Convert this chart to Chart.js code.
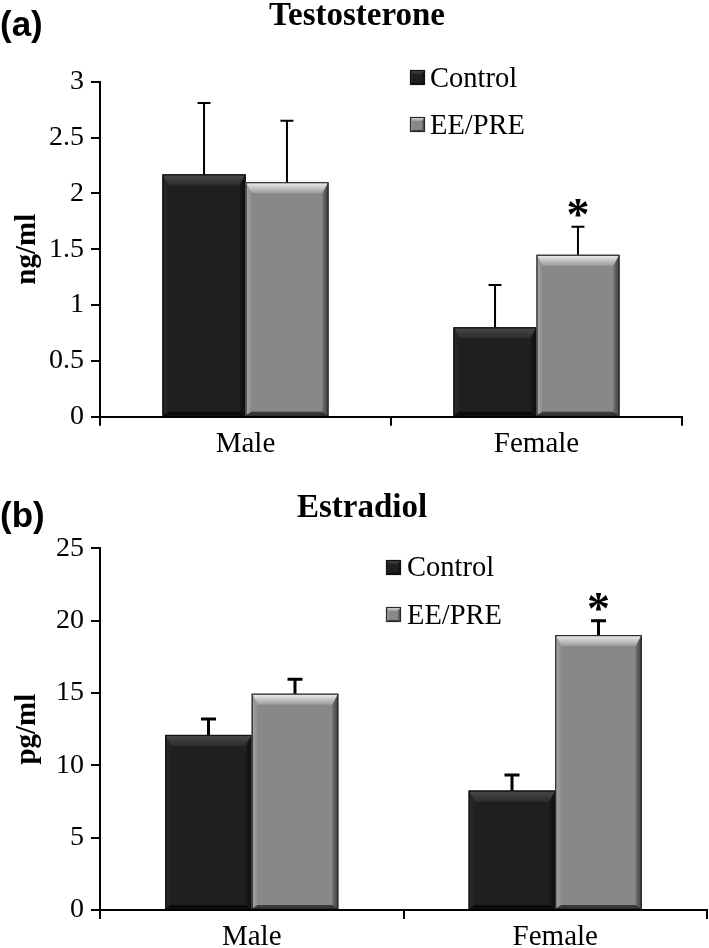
<!DOCTYPE html>
<html><head><meta charset="utf-8">
<script src="https://cdn.jsdelivr.net/npm/chart.js@4.4.1/dist/chart.umd.min.js"></script>
<style>
html,body{margin:0;padding:0;background:#fff;}
#wrap{width:709px;height:948px;position:relative;overflow:hidden;}
canvas{display:block;}
</style></head><body>
<div id="wrap">
<canvas id="ca" width="709" height="474"></canvas>
<canvas id="cb" width="709" height="474"></canvas>
</div>
<script>
// ---- data ----
const categories = ['Male', 'Female'];
const seriesNames = ['Control', 'EE/PRE'];
const seriesColors = ['#1f1f1f', '#888888'];

const testoControl = [2.17, 0.80];
const testoEEPRE = [2.10, 1.45];
const testoControlErr = [0.64, 0.38];
const testoEEPREErr = [0.55, 0.25];
const testoSignificant = [false, true];   // EE/PRE vs Control

const estraControl = [12.1, 8.25];
const estraEEPRE = [14.95, 19.0];
const estraControlErr = [1.1, 1.08];
const estraEEPREErr = [1.0, 1.0];
const estraSignificant = [false, true];

const SERIF = '"Liberation Serif", "Times New Roman", serif';
const SANS = '"Liberation Sans", Arial, sans-serif';

function bevelRect(ctx, l, t, r, b, main, k) {
  const w = r - l, h = b - t;
  if (w <= 0 || h <= 0) return;
  const bt = Math.min(k.top, h / 2), bs = Math.min(k.side, w / 2), bb = Math.min(k.bottom, h / 2);
  ctx.save();
  ctx.fillStyle = main;
  ctx.fillRect(l, t, w, h);
  let g = ctx.createLinearGradient(0, t, 0, t + bt);
  g.addColorStop(0, k.topA); g.addColorStop(1, k.topB);
  ctx.fillStyle = g;
  ctx.beginPath(); ctx.moveTo(l, t); ctx.lineTo(r, t); ctx.lineTo(r - bs, t + bt); ctx.lineTo(l + bs, t + bt); ctx.closePath(); ctx.fill();
  g = ctx.createLinearGradient(l, 0, l + bs, 0);
  g.addColorStop(0, k.leftA); g.addColorStop(1, k.leftB);
  ctx.fillStyle = g;
  ctx.beginPath(); ctx.moveTo(l, t); ctx.lineTo(l + bs, t + bt); ctx.lineTo(l + bs, b - bb); ctx.lineTo(l, b); ctx.closePath(); ctx.fill();
  g = ctx.createLinearGradient(r - bs, 0, r, 0);
  g.addColorStop(0, k.rightA); g.addColorStop(1, k.rightB);
  ctx.fillStyle = g;
  ctx.beginPath(); ctx.moveTo(r, t); ctx.lineTo(r, b); ctx.lineTo(r - bs, b - bb); ctx.lineTo(r - bs, t + bt); ctx.closePath(); ctx.fill();
  ctx.fillStyle = k.bottomC;
  ctx.beginPath(); ctx.moveTo(l, b); ctx.lineTo(l + bs, b - bb); ctx.lineTo(r - bs, b - bb); ctx.lineTo(r, b); ctx.closePath(); ctx.fill();
  ctx.strokeStyle = k.edge; ctx.lineWidth = 1.2;
  ctx.strokeRect(l + 0.5, t + 0.5, w - 1, h - 1);
  ctx.restore();
}

const bevelStyles = [
  {top: 11, side: 6, bottom: 4, topA: '#4a4a4a', topB: '#2c2c2c', leftA: '#2a2a2a', leftB: '#222', rightA: '#1a1a1a', rightB: '#0d0d0d', bottomC: '#0a0a0a', edge: '#111'},
  {top: 11, side: 6, bottom: 4, topA: '#f2f2f2', topB: '#9a9a9a', leftA: '#a8a8a8', leftB: '#8c8c8c', rightA: '#707070', rightB: '#3e3e3e', bottomC: '#3a3a3a', edge: '#2a2a2a'}
];

function makeChart(id, c) {
  const errs = [c.controlErr, c.eeErr];
  const decor = {
    id: 'decor',
    afterDatasetsDraw(chart) {
      const ctx = chart.ctx;
      const ys = chart.scales.y;
      chart.data.datasets.forEach((ds, di) => {
        const meta = chart.getDatasetMeta(di);
        meta.data.forEach((el) => {
          const p = el.getProps(['x', 'y', 'base', 'width'], true);
          bevelRect(ctx, p.x - p.width / 2, p.y, p.x + p.width / 2, p.base, ds.backgroundColor, bevelStyles[di]);
        });
      });
      ctx.save();
      ctx.strokeStyle = '#000';
      ctx.lineWidth = c.errLW;
      chart.data.datasets.forEach((ds, di) => {
        const meta = chart.getDatasetMeta(di);
        meta.data.forEach((el, i) => {
          const v = ds.data[i];
          const yTop = ys.getPixelForValue(v + errs[di][i]);
          const x = el.x;
          ctx.beginPath();
          ctx.moveTo(x, el.y); ctx.lineTo(x, yTop);
          ctx.moveTo(x - c.cap / 2, yTop); ctx.lineTo(x + c.cap / 2, yTop);
          ctx.stroke();
          if (di === 1 && c.sig[i]) {
            ctx.fillStyle = '#000';
            ctx.font = 'bold 46px ' + SERIF;
            ctx.textAlign = 'center';
            ctx.textBaseline = 'alphabetic';
            ctx.fillText('*', x, yTop - c.starGap);
          }
        });
      });
      ctx.restore();
    },
    afterDraw(chart) {
      const ctx = chart.ctx;
      ctx.save();
      ctx.fillStyle = '#000';
      ctx.textBaseline = 'alphabetic';
      ctx.font = 'bold 33px ' + SERIF;
      ctx.textAlign = 'center';
      ctx.fillText(c.title, c.titleX, c.titleY);
      ctx.font = 'bold 35px ' + SANS;
      ctx.textAlign = 'left';
      ctx.fillText(c.panel, 0, c.panelY);
      ctx.font = '28.5px ' + SERIF;
      chart.data.datasets.forEach((ds, di) => {
        const L = c.legend[di];
        bevelRect(ctx, L.sx, L.sy, L.sx + 15, L.sy + 15, ds.backgroundColor,
          Object.assign({}, bevelStyles[di], {top: 4, side: 3, bottom: 2}));
        ctx.fillStyle = '#000';
        ctx.fillText(ds.label, L.tx, L.ty);
      });
      ctx.restore();
    }
  };
  return new Chart(document.getElementById(id), {
    type: 'bar',
    data: {
      labels: categories,
      datasets: [
        {label: seriesNames[0], data: c.control, backgroundColor: seriesColors[0]},
        {label: seriesNames[1], data: c.ee, backgroundColor: seriesColors[1]}
      ]
    },
    options: {
      responsive: false,
      animation: false,
      events: [],
      layout: {padding: {top: c.padTop, right: c.padRight, left: 0, bottom: 0}},
      datasets: {bar: {categoryPercentage: 0.57, barPercentage: 1.0}},
      elements: {bar: {borderWidth: 0}},
      plugins: {legend: {display: false}, title: {display: false}, tooltip: {enabled: false}},
      scales: {
        x: {
          grid: {display: true, drawOnChartArea: false, offset: true, color: '#000', lineWidth: 2, tickLength: 9, tickColor: '#000'},
          border: {display: true, color: '#000', width: 2},
          ticks: {color: '#000', font: {family: SERIF, size: 29}, padding: 1, maxRotation: 0},
          afterFit: s => { s.height = c.xHeight; }
        },
        y: {
          min: 0, max: c.max,
          grid: {display: true, drawOnChartArea: false, color: '#000', lineWidth: 2, tickLength: 9},
          border: {display: true, color: '#000', width: 2},
          ticks: {stepSize: c.step, color: '#000', font: {family: SERIF, size: 28}, padding: 7,
                  callback: v => String(Number(v))},
          title: {display: true, text: c.yTitle, color: '#000', font: {family: SERIF, size: 29, weight: 'bold'}, padding: {top: 10, bottom: 0}},
          afterFit: s => { s.width = 100; }
        }
      }
    },
    plugins: [decor]
  });
}

makeChart('ca', {
  control: testoControl, ee: testoEEPRE, controlErr: testoControlErr, eeErr: testoEEPREErr, sig: testoSignificant,
  max: 3, step: 0.5, yTitle: 'ng/ml', title: 'Testosterone', panel: '(a)',
  padTop: 81.7, padRight: 27, xHeight: 57.3, titleX: 357, titleY: 25, panelY: 36,
  errLW: 2, cap: 13, starGap: -3,
  legend: [{sx: 410, sy: 70, tx: 430, ty: 87}, {sx: 410, sy: 117, tx: 430, ty: 134}]
});
makeChart('cb', {
  control: estraControl, ee: estraEEPRE, controlErr: estraControlErr, eeErr: estraEEPREErr, sig: estraSignificant,
  max: 25, step: 5, yTitle: 'pg/ml', title: 'Estradiol', panel: '(b)',
  padTop: 74.3, padRight: 2, xHeight: 38, titleX: 362, titleY: 43, panelY: 53,
  errLW: 3, cap: 15, starGap: -3,
  legend: [{sx: 386, sy: 86, tx: 407, ty: 102}, {sx: 386, sy: 133, tx: 407, ty: 150}]
});
</script>
</body></html>
